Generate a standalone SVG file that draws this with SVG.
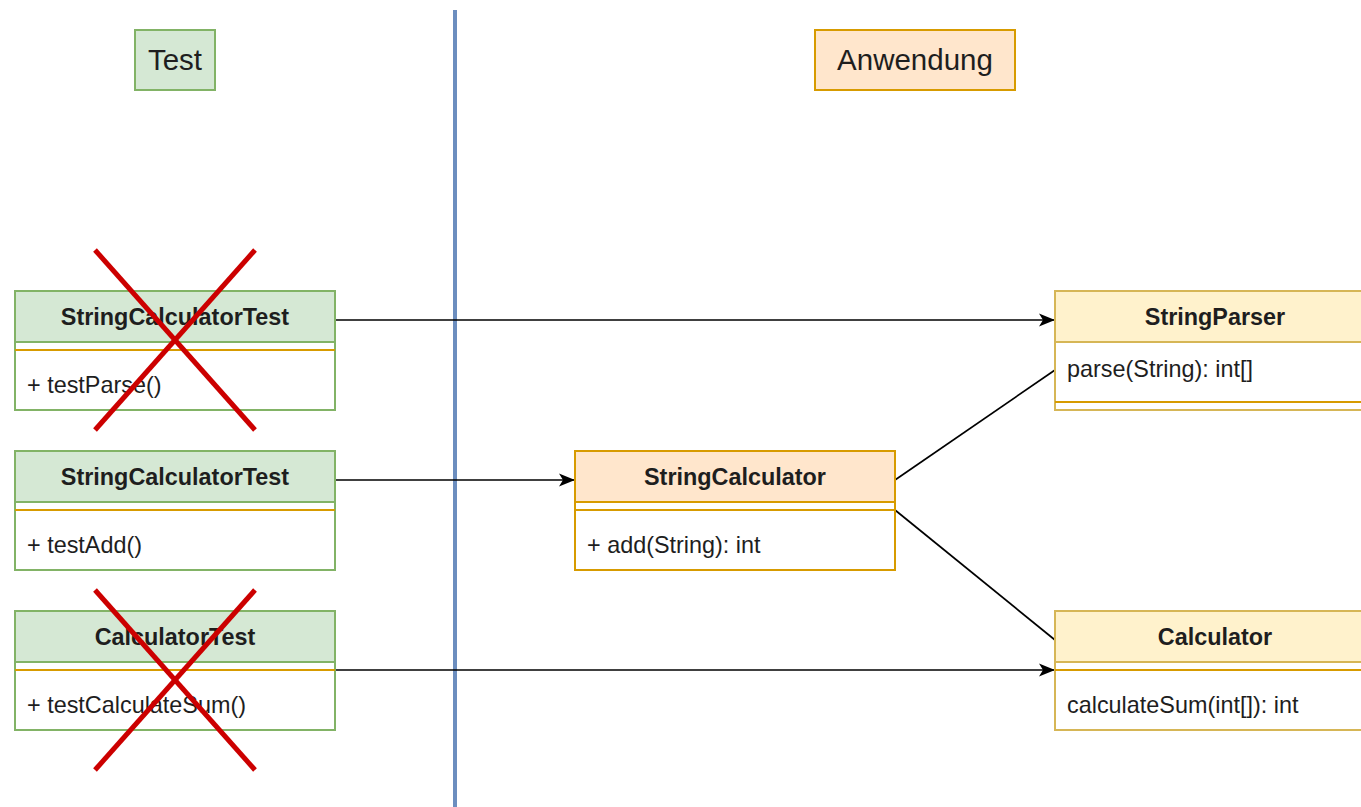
<svg xmlns="http://www.w3.org/2000/svg" width="1361" height="807" viewBox="0 0 1361 807">
<defs>
<marker id="arr" markerWidth="17" markerHeight="14" refX="16" refY="7" orient="auto" markerUnits="userSpaceOnUse">
<path d="M0,0.5 L16,7 L0,13.5 L4,7 Z" fill="#000"/>
</marker>
<style>
text{font-family:"Liberation Sans",Arial,sans-serif;fill:#1e1e1e}
.hd{font-size:23.4px;font-weight:bold;text-anchor:middle}
.bd{font-size:23.4px}
.lbl{font-size:29.5px;text-anchor:middle}
.g{fill:#d5e8d4;stroke:#82b366;stroke-width:2}
.gw{fill:#fff;stroke:#82b366;stroke-width:2}
.o{fill:#ffe6cc;stroke:#d79b00;stroke-width:2}
.ow{fill:#fff;stroke:#d79b00;stroke-width:2}
.y{fill:#fff2cc;stroke:#d6b656;stroke-width:2}
.yw{fill:#fff;stroke:#d6b656;stroke-width:2}
.sep{stroke:#d79b00;stroke-width:2}
.x{stroke:#cc0000;stroke-width:5}
.c{stroke:#000;stroke-width:1.7;fill:none}
</style>
</defs>
<rect width="1361" height="807" fill="#fff"/>
<line x1="455" y1="10" x2="455" y2="807" stroke="#6c8ebf" stroke-width="4"/>
<g id="test-label"><rect x="135" y="30" width="80" height="60" class="g"/><text x="175" y="70" class="lbl">Test</text></g>
<g id="anwendung-label"><rect x="815" y="30" width="200" height="60" class="o"/><text x="915" y="70" class="lbl">Anwendung</text></g>

<g id="connectors">
<line x1="335" y1="320" x2="1055" y2="320" class="c" marker-end="url(#arr)"/>
<line x1="335" y1="480" x2="575" y2="480" class="c" marker-end="url(#arr)"/>
<line x1="335" y1="670" x2="1055" y2="670" class="c" marker-end="url(#arr)"/>
<line x1="895" y1="480" x2="1055" y2="370" class="c"/>
<line x1="895" y1="510" x2="1055" y2="640" class="c"/>
</g>

<g id="sct1">
<rect x="15" y="291" width="320" height="119" class="gw"/>
<rect x="15" y="291" width="320" height="51" class="g"/>
<line x1="15" y1="350" x2="335" y2="350" class="sep"/>
<text x="175" y="325" class="hd">StringCalculatorTest</text>
<text x="27" y="393" class="bd">+ testParse()</text>
</g>
<g id="sct2">
<rect x="15" y="451" width="320" height="119" class="gw"/>
<rect x="15" y="451" width="320" height="51" class="g"/>
<line x1="15" y1="510" x2="335" y2="510" class="sep"/>
<text x="175" y="485" class="hd">StringCalculatorTest</text>
<text x="27" y="553" class="bd">+ testAdd()</text>
</g>
<g id="ct">
<rect x="15" y="611" width="320" height="119" class="gw"/>
<rect x="15" y="611" width="320" height="51" class="g"/>
<line x1="15" y1="670" x2="335" y2="670" class="sep"/>
<text x="175" y="645" class="hd">CalculatorTest</text>
<text x="27" y="713" class="bd">+ testCalculateSum()</text>
</g>
<g id="sc">
<rect x="575" y="451" width="320" height="119" class="ow"/>
<rect x="575" y="451" width="320" height="51" class="o"/>
<line x1="575" y1="510" x2="895" y2="510" class="sep"/>
<text x="735" y="485" class="hd">StringCalculator</text>
<text x="587" y="553" class="bd">+ add(String): int</text>
</g>
<g id="sp">
<rect x="1055" y="291" width="320" height="119" class="yw"/>
<rect x="1055" y="291" width="320" height="51" class="y"/>
<line x1="1055" y1="402" x2="1375" y2="402" class="sep"/>
<text x="1215" y="325" class="hd">StringParser</text>
<text x="1067" y="377" class="bd">parse(String): int[]</text>
</g>
<g id="calc">
<rect x="1055" y="611" width="320" height="119" class="yw"/>
<rect x="1055" y="611" width="320" height="51" class="y"/>
<line x1="1055" y1="670" x2="1375" y2="670" class="sep"/>
<text x="1215" y="645" class="hd">Calculator</text>
<text x="1067" y="713" class="bd">calculateSum(int[]): int</text>
</g>

<g id="cross1"><line x1="95" y1="250" x2="255" y2="430" class="x"/><line x1="255" y1="250" x2="95" y2="430" class="x"/></g>
<g id="cross2"><line x1="95" y1="590" x2="255" y2="770" class="x"/><line x1="255" y1="590" x2="95" y2="770" class="x"/></g>
</svg>
